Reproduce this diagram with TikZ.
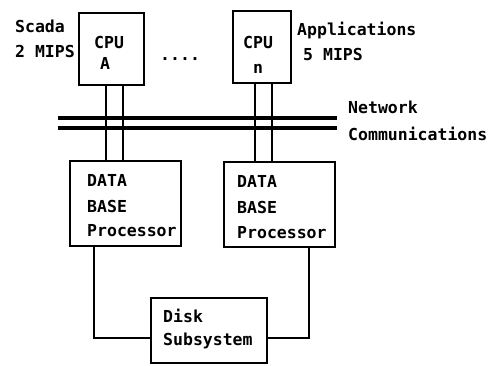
\documentclass[tikz,border=0pt]{standalone}
\usepackage{fontspec}
\setmonofont{DejaVu Sans Mono}
\begin{document}
\begin{tikzpicture}[x=1pt,y=-1pt,
  box/.style={draw,line width=2.4pt},
  link/.style={line width=1.5pt},
  bus/.style={line width=3.2pt},
  lbl/.style={anchor=base west,inner sep=0pt,font=\ttfamily\bfseries\fontsize{16.5}{20}\selectfont}]
\useasboundingbox (0,0) rectangle (494,365);
% processors on the network
\draw[box] (79,13) rectangle (144,85) coordinate (cpuA);
\draw[box] (233,11) rectangle (291,83) coordinate (cpuN);
\node[lbl] (tA1) at (94,48) {CPU};
\node[lbl] (tA2) at (100,69) {A};
\node[lbl] (tN1) at (243,48) {CPU};
\node[lbl] (tN2) at (253,73) {n};
\node[lbl] (dots) at (160,60) {....};
\node[lbl] (sc1) at (15,32) {Scada};
\node[lbl] (sc2) at (15,57) {2 MIPS};
\node[lbl] (ap1) at (297,35) {Applications};
\node[lbl] (ap2) at (303,60) {5 MIPS};
% network bus
\coordinate (busL1) at (58,118); \coordinate (busR1) at (337,118);
\coordinate (busL2) at (58,128); \coordinate (busR2) at (337,128);
\draw[bus] (busL1) -- (busR1);
\draw[bus] (busL2) -- (busR2);
\node[lbl] (nw1) at (348,113) {Network};
\node[lbl] (nw2) at (348,140) {Communications};
% data base processors
\draw[box] (70,161) rectangle (181,246);
\draw[box] (224,162) rectangle (335,247);
\node[lbl] (dl1) at (87,186) {DATA};
\node[lbl] (dl2) at (87,212) {BASE};
\node[lbl] (dl3) at (87,236) {Processor};
\node[lbl] (dr1) at (237,187) {DATA};
\node[lbl] (dr2) at (237,213) {BASE};
\node[lbl] (dr3) at (237,238) {Processor};
% cpu to data base processor links
\draw[link] (106,86) -- (106,160);
\draw[link] (123,86) -- (123,160);
\draw[link] (255,84) -- (255,161);
\draw[link] (272,84) -- (272,161);
% disk subsystem
\draw[box] (151,298) rectangle (267,363);
\node[lbl] (dk1) at (163,322) {Disk};
\node[lbl] (dk2) at (163,345) {Subsystem};
\draw[link] (94,247) -- (94,338) -- (150,338);
\draw[link] (309,248) -- (309,338) -- (268,338);
\end{tikzpicture}
\end{document}
